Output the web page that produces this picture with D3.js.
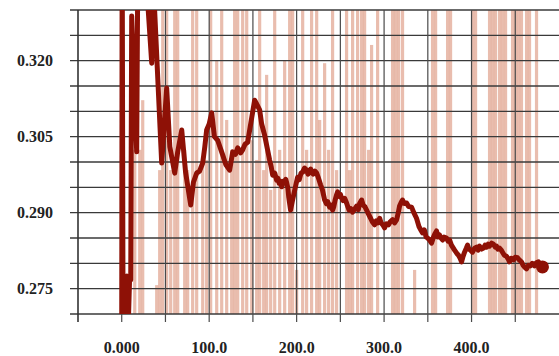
<!DOCTYPE html>
<html lang="en">
<head>
  <meta charset="UTF-8">
  <title>Line over bars</title>
  <script src="https://d3js.org/d3.v7.min.js"></script>
  <style>
    body { margin: 0; background: #fff; }
    svg { display: block; }
    .lbl { font-family: "Liberation Serif", "Times New Roman", serif; font-weight: bold; font-size: 16px; fill: #222; }
  </style>
</head>
<body>
  <svg id="chart" width="559" height="356"></svg>
  <script>
    // ---- data ----
    const lineX = [0, 0.5, 1.5, 3, 4.5, 6, 7.5, 9, 10.3, 11.4,
      17.1, 18.3, 28, 34.3, 36, 45.7, 51.4, 55, 60.6, 64,
      68.6, 73, 78.9, 82, 85.7, 89, 92.6, 95, 97.1, 100,
      102.9, 106, 109.7, 115.4, 119, 123.4, 126.9, 130, 132.6, 136,
      138.3, 141, 144, 148.6, 152, 155, 157.7, 160, 163.4,
      169.1, 171, 172.6, 175, 177.1, 178.5, 180, 181.5, 182.9, 184.5,
      186, 187.5, 188.6, 190, 191, 193.1, 195, 196.6, 198.5, 201.1,
      203, 205, 206.9, 209, 211.4, 213, 214, 216, 217.1, 219,
      221, 222.9, 225, 227.4, 229.5, 232, 234, 235.5, 237.7, 239.5,
      241.1, 242.5, 244, 245.5, 246.9, 248.5, 250, 251.4, 253, 255,
      257.1, 258.5, 260, 262, 264, 266, 268.6, 270.5, 272, 274.3,
      276, 278, 280, 282.5, 284.6, 286.5, 289.1, 291, 293, 294.9,
      296.5, 298.5, 300.6, 302.5, 305.1, 307, 309.7, 312, 314.3, 316,
      317.7, 319.5, 321.1, 323, 325.7, 328, 331.4, 334, 337.1, 340,
      342, 344, 346, 348, 349.7, 352, 354.3, 356.5, 358, 360,
      361.5, 363.4, 365, 366.9, 368.5, 371.4, 373, 374.9, 377, 380.6,
      383, 385.1, 387, 388.6, 390, 392, 394, 395.4, 397, 398.9,
      401.1, 403.5, 405.7, 407.5, 409.1, 411.5, 413.7, 415.5, 417.1, 419,
      420.6, 423, 425.1, 427, 428.6, 430, 432, 434, 435.4, 437.5,
      440, 442, 443.4, 445.5, 448, 450, 452.6, 455, 457.1, 459,
      461, 462.9, 465, 467.4, 469.5, 472, 474, 476.6, 479, 481.1];
    const lineY = [0.266, 0.345, 0.268, 0.2775, 0.268, 0.2775, 0.268, 0.277, 0.2767, 0.3288,
      0.3020, 0.336, 0.336, 0.3195, 0.336, 0.2998, 0.3146, 0.303, 0.2978, 0.302,
      0.3063, 0.298, 0.2915, 0.296, 0.2978, 0.2982, 0.2998, 0.303, 0.3063, 0.3075,
      0.3097, 0.305, 0.3043, 0.3014, 0.2995, 0.2984, 0.3020, 0.3015, 0.3028, 0.3018,
      0.3024, 0.3035, 0.3039, 0.3087, 0.3122, 0.3112, 0.3103, 0.3075, 0.3053,
      0.3004, 0.2990, 0.2974, 0.2978, 0.2964, 0.2968, 0.2958, 0.2962, 0.2951, 0.2962,
      0.2960, 0.2966, 0.2959, 0.2948, 0.2930, 0.2905, 0.2922, 0.2935, 0.2950, 0.2970,
      0.2965, 0.2978, 0.2980, 0.2988, 0.2984, 0.2976, 0.2978, 0.2986, 0.2980, 0.2976,
      0.2982, 0.2978, 0.2968, 0.2955, 0.2945, 0.2925, 0.2918, 0.2922, 0.2911, 0.2915,
      0.2905, 0.2912, 0.2925, 0.2934, 0.2941, 0.2932, 0.2936, 0.2929, 0.2924, 0.2928,
      0.2919, 0.2912, 0.2905, 0.2908, 0.2901, 0.2906, 0.2913, 0.2906, 0.2918, 0.2925,
      0.2915, 0.2912, 0.2905, 0.2896, 0.2889, 0.2882, 0.2876, 0.2884, 0.2880, 0.2889,
      0.2880, 0.2876, 0.2870, 0.2878, 0.2876, 0.2882, 0.2886, 0.2880, 0.2886, 0.2898,
      0.2913, 0.2920, 0.2925, 0.2918, 0.2919, 0.2912, 0.2911, 0.2900, 0.2889, 0.2872,
      0.2866, 0.2860, 0.2866, 0.2852, 0.2850, 0.2846, 0.2840, 0.2852, 0.2858, 0.2864,
      0.2852, 0.2856, 0.2850, 0.2846, 0.2852, 0.2850, 0.2844, 0.2846, 0.2836, 0.2826,
      0.2820, 0.2816, 0.2810, 0.2803, 0.2812, 0.2822, 0.2830, 0.2836, 0.2828, 0.2826,
      0.2822, 0.2830, 0.2832, 0.2826, 0.2834, 0.2828, 0.2830, 0.2836, 0.2832, 0.2838,
      0.2834, 0.2840, 0.2838, 0.2832, 0.2834, 0.2828, 0.2830, 0.2826, 0.2822, 0.2816,
      0.2814, 0.2808, 0.2803, 0.2810, 0.2807, 0.2812, 0.2811, 0.2806, 0.2803, 0.2796,
      0.2792, 0.2789, 0.2796, 0.2795, 0.2800, 0.2795, 0.2801, 0.2803, 0.2797, 0.2793];

    const barX = [14.9, 20.6, 24.0, 40.0, 43.4, 46.9, 51.4, 56.0, 60.6, 64.0, 72.0, 75.4, 81.1, 85.7, 92.6, 97.1, 101.7, 108.6, 114.3,
      120.0, 125.7, 129.1, 132.6, 138.3, 142.9, 148.6, 154.3, 157.7, 162.3, 165.7, 170.3, 174.9, 180.6, 186.3, 192.0, 195.4, 200.0,
      206.9, 211.4, 217.1, 222.9, 226.3, 232.0, 236.6, 241.1, 245.7, 257.1, 260.6, 264.0, 269.7, 274.3, 277.7, 282.3, 285.7, 292.6,
      309.7, 313.1, 316.6, 321.1, 334.9, 355.4, 358.9, 372.6, 376.0, 401.1, 404.6, 420.6, 424.0, 427.4, 432.0, 435.4, 438.9, 446.9,
      450.3, 453.7, 457.1, 462.9, 466.3, 474.3];
    const barY = [0.3024, 0.3024, 0.3122, 0.2757, 0.2984, 0.34, 0.34, 0.2984, 0.34, 0.34, 0.3024, 0.2984, 0.34, 0.34, 0.3004, 0.3004,
      0.34, 0.3201, 0.34, 0.3083, 0.3024, 0.34, 0.34, 0.34, 0.34, 0.3043, 0.3004, 0.34, 0.2984, 0.3172, 0.2945, 0.34, 0.3024, 0.3201,
      0.34, 0.34, 0.2787, 0.34, 0.3024, 0.34, 0.34, 0.3083, 0.3195, 0.3024, 0.34, 0.2984, 0.34, 0.2984, 0.34, 0.34, 0.34, 0.34, 0.3024,
      0.3231, 0.34, 0.34, 0.34, 0.34, 0.34, 0.2787, 0.34, 0.34, 0.34, 0.34, 0.34, 0.34, 0.34, 0.34, 0.34, 0.34, 0.34, 0.34, 0.34,
      0.34, 0.34, 0.34, 0.34, 0.34, 0.34];

    const yGrid = [0.270, 0.275, 0.280, 0.285, 0.290, 0.295, 0.300, 0.305, 0.310, 0.315, 0.320, 0.325, 0.330];
    const yLabels = [0.275, 0.290, 0.305, 0.320];
    const xGrid = [-50, 0, 50, 100, 150, 200, 250, 300, 350, 400, 450];
    const xLabelValues = [0, 100, 200, 300, 400];
    const xLabelText = ["0.000", "100.0", "200.0", "300.0", "400.0"];

    // ---- layout ----
    const margin = { top: 10, right: 0, bottom: 42, left: 78 };
    const W = 559, H = 356;
    const width = W - margin.left - margin.right;
    const height = H - margin.top - margin.bottom;

    const x = d3.scaleLinear().domain([-50, 500]).range([0, width]);
    const y = d3.scaleLinear().domain([0.27, 0.33]).range([height, 0]);

    const svg = d3.select("#chart");
    const g = svg.append("g").attr("transform", `translate(${margin.left},${margin.top})`);

    g.append("clipPath").attr("id", "plot")
      .append("rect").attr("x", 0).attr("y", 0).attr("width", width).attr("height", height);

    // light background bars
    const barW = 3.2;
    g.append("g").attr("clip-path", "url(#plot)")
      .selectAll("rect")
      .data(barX.map((v, i) => ({ x: v, y: barY[i] })))
      .enter().append("rect")
      .attr("x", d => x(d.x) - barW / 2)
      .attr("y", d => y(d.y))
      .attr("width", barW)
      .attr("height", d => height - y(d.y))
      .attr("fill", "#d98e74")
      .attr("opacity", 0.58);

    // horizontal grid (extends left of the axis as tick marks)
    g.append("g")
      .selectAll("line")
      .data(yGrid)
      .enter().append("line")
      .attr("x1", -8).attr("x2", width)
      .attr("y1", d => y(d)).attr("y2", d => y(d))
      .attr("stroke", "#3a3a3a")
      .attr("stroke-width", 1.4);

    // vertical grid (extends below the axis as tick marks)
    g.append("g")
      .selectAll("line")
      .data(xGrid)
      .enter().append("line")
      .attr("x1", d => x(d)).attr("x2", d => x(d))
      .attr("y1", 0).attr("y2", height + 8)
      .attr("stroke", d => d === -50 ? "#333" : "#4a4a4a")
      .attr("stroke-width", d => d === -50 ? 1.6 : 1.2);

    // y labels
    g.append("g")
      .selectAll("text")
      .data(yLabels)
      .enter().append("text")
      .attr("class", "lbl")
      .attr("x", -25)
      .attr("y", d => y(d))
      .attr("dy", "0.35em")
      .attr("text-anchor", "end")
      .text(d3.format(".3f"));

    // x labels
    g.append("g")
      .selectAll("text")
      .data(xLabelValues)
      .enter().append("text")
      .attr("class", "lbl")
      .attr("x", d => x(d))
      .attr("y", height + 39)
      .attr("text-anchor", "middle")
      .text((d, i) => xLabelText[i]);

    // main line
    const pts = lineX.map((v, i) => [v, lineY[i]]);
    const line = d3.line().x(d => x(d[0])).y(d => y(d[1]));
    g.append("path")
      .attr("clip-path", "url(#plot)")
      .datum(pts)
      .attr("d", line)
      .attr("fill", "none")
      .attr("stroke", "#8e1106")
      .attr("stroke-width", 5)
      .attr("stroke-linejoin", "round")
      .attr("stroke-linecap", "round");

    const last = pts[pts.length - 1];
    g.append("circle")
      .attr("cx", x(last[0]))
      .attr("cy", y(last[1]))
      .attr("r", 6.5)
      .attr("fill", "#8e1106");
  </script>
</body>
</html>
